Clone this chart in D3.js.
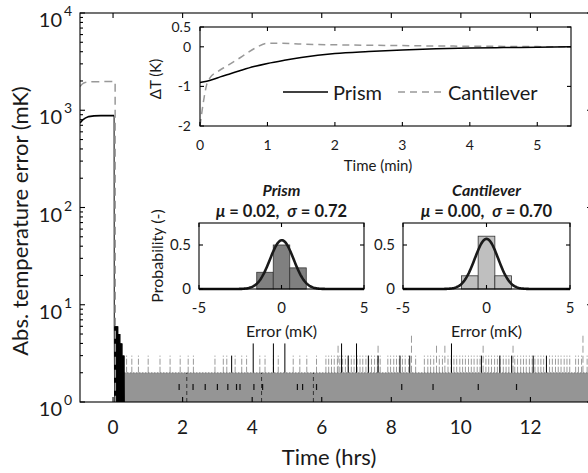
<!DOCTYPE html>
<html>
<head>
<meta charset="utf-8">
<script src="https://cdn.jsdelivr.net/npm/d3@7"></script>
<style>
  body { margin: 0; background: #fff; }
  svg { display: block; font-family: Lato, "Open Sans", sans-serif; }
</style>
</head>
<body>
<div id="chart"></div>
<script>
// ---- main plot: absolute temperature error (mK) vs time (hrs) ----
// before the switch-on: smooth offsets
const prismLeadTime  = [-0.95, -0.88, -0.8, -0.7, -0.55, -0.35, -0.1, 0.03];
const prismLeadError = [740, 790, 830, 860, 875, 880, 880, 880];
const cantLeadTime   = [-0.95, -0.9, -0.84, -0.76, -0.6, -0.3, 0.06];
const cantLeadError  = [1750, 1840, 1910, 1950, 1965, 1970, 1970];

// prism transient right after the drop
const prismDropTime  = [0.03, 0.035, 0.045, 0.055, 0.065, 0.075, 0.085, 0.095, 0.105, 0.115, 0.125,
                        0.135, 0.145, 0.155, 0.165, 0.175, 0.185, 0.195, 0.205, 0.215, 0.225, 0.235,
                        0.245, 0.255, 0.265, 0.275, 0.285, 0.295, 0.305, 0.315, 0.325];
const prismDropError = [880, 6, 1, 6, 1, 6, 1, 6, 1, 6, 1, 6, 1, 5, 1, 5, 1, 5, 1, 4, 1, 4, 1, 4, 1,
                        3, 1, 3, 1, 3, 1];
const cantDropTime   = [0.06, 0.065];
const cantDropError  = [1970, 1];

// steady state: error jumps between 1 and 2 mK (dense band)
const bandTime = [0.065, 13.8];
const bandLow = 1, bandHigh = 2;

// occasional spikes above the band
const cantSpike3 = [0.39, 0.54, 0.73, 1.01, 1.35, 1.64, 1.93, 2.16, 2.31, 2.93, 3.17, 3.27, 3.51, 3.70,
  3.84, 4.22, 4.37, 4.61, 4.75, 5.18, 5.37, 5.57, 5.85,
  6.12, 6.2, 6.28, 6.36, 6.45, 6.52, 6.6, 6.68, 6.77, 6.85, 6.93, 7.02, 7.1, 7.18, 7.27, 7.35, 7.43,
  7.52, 7.6, 7.68, 7.9, 7.98, 8.07, 8.15, 8.23, 8.32, 8.4, 8.5, 8.7, 8.95, 9.05, 9.13, 9.22, 9.38,
  9.47, 9.63, 9.72, 9.8, 9.88, 9.97, 10.05, 10.13, 10.22, 10.3, 10.38, 10.47, 10.55, 10.72, 10.8,
  10.88, 10.97, 11.05, 11.13, 11.22, 11.3, 11.38, 11.55, 11.63, 11.72, 11.8, 11.88, 11.97, 12.05,
  12.13, 12.22, 12.3, 12.38, 12.55, 12.63, 12.72, 12.8, 12.88, 12.97, 13.05, 13.13, 13.3, 13.38,
  13.47, 13.63, 13.72];
const cantSpike4 = [6.47, 7.62, 9.30, 9.54, 10.64, 11.5];
const cantSpike5 = [8.58, 13.51];
const prismSpike3 = [3.41, 6.76, 7.34, 7.62, 8.25, 8.53, 10.59, 11.12, 11.46, 12.08, 12.46];
const prismSpike4 = [4.03, 4.61, 4.94, 6.57, 7.0, 9.73];
const prismBandMarks = [1.9, 2.3, 2.65, 3.0, 3.3, 3.55, 3.65, 4.05, 4.3, 5.3, 5.45, 5.85, 8.3, 9.2, 10.5, 11.6];
const prismBandLines = [2.12, 4.27, 5.76];

const xTicks = [0, 2, 4, 6, 8, 10, 12, 14];
const yExponents = [0, 1, 2, 3, 4];

// ---- inset: temperature difference (K) vs time (min) ----
const insetTime  = [0, 0.1, 0.2, 0.3, 0.45, 0.6, 0.8, 1.0, 1.25, 1.5, 2.0, 2.5, 3.0, 3.5, 4.0, 4.5, 5.0, 5.5];
const insetPrism = [-0.9, -0.87, -0.82, -0.76, -0.68, -0.6, -0.5, -0.42, -0.34, -0.27, -0.17, -0.12,
                    -0.08, -0.05, -0.03, -0.02, -0.01, 0];
const insetCantTime = [0, 0.05, 0.1, 0.15, 0.25, 0.4, 0.6, 0.8, 1.0, 1.2, 1.5, 2.0, 2.5, 3.0, 3.5, 4.0, 4.5, 5.0, 5.5];
const insetCant     = [-2.0, -1.4, -0.95, -0.78, -0.64, -0.48, -0.27, -0.05, 0.09, 0.09, 0.07, 0.05,
                       0.04, 0.03, 0.02, 0.015, 0.01, 0.005, 0];
const insetXTicks = [0, 1, 2, 3, 4, 5];
const insetYTicks = [-2, -1, 0, 0.5];

// ---- histogram insets: error distribution ----
const binCenters = [-1, 0, 1];
const prismProb = [0.19, 0.50, 0.24];
const cantProb  = [0.15, 0.60, 0.15];
const prismFit = { mu: 0.02, sigma: 0.72 };
const cantFit  = { mu: 0.00, sigma: 0.70 };
const histXTicks = [-5, 0, 5];
const histYTicks = [0, 0.5];

const W = 588, H = 473;
const svg = d3.select("#chart").append("svg")
  .attr("width", W).attr("height", H)
  .attr("viewBox", `0 0 ${W} ${H}`);
svg.append("rect").attr("width", W).attr("height", H).attr("fill", "#fff");

const m = { left: 80, right: 592, top: 13, bottom: 402 };
const x = d3.scaleLinear().domain([-0.95, 13.77]).range([m.left, m.right]);
const y = d3.scaleLog().domain([1, 10000]).range([m.bottom, m.top]);

svg.append("defs").append("clipPath").attr("id", "mainClip")
  .append("rect").attr("x", m.left).attr("y", m.top)
  .attr("width", m.right - m.left).attr("height", m.bottom - m.top);

const plot = svg.append("g").attr("clip-path", "url(#mainClip)");
const GRAY = "#959595";

// band of dense 1-2 mK jumps
plot.append("path").datum(bandTime)
  .attr("d", d3.area().x(d => x(d)).y0(y(bandLow)).y1(y(bandHigh)))
  .attr("fill", GRAY);

// black traces inside band
plot.selectAll(".bmark").data(prismBandMarks).enter().append("line")
  .attr("x1", d => x(d)).attr("x2", d => x(d))
  .attr("y1", y(bandLow)).attr("y2", y(bandHigh))
  .attr("stroke", "#111").attr("stroke-width", 1.2)
  .attr("stroke-dasharray", "0,12,6,40");
plot.selectAll(".bline").data(prismBandLines).enter().append("line")
  .attr("x1", d => x(d)).attr("x2", d => x(d))
  .attr("y1", y(bandLow)).attr("y2", y(bandHigh))
  .attr("stroke", "#333").attr("stroke-width", 1)
  .attr("stroke-dasharray", "4,3");

// spikes
function spikes(times, level, color, dash) {
  plot.append("g").selectAll("line").data(times).enter().append("line")
    .attr("x1", d => x(d)).attr("x2", d => x(d))
    .attr("y1", y(bandHigh)).attr("y2", y(level))
    .attr("stroke", color).attr("stroke-width", 1)
    .attr("stroke-dasharray", dash);
}
spikes(cantSpike3, 3, "#9a9a9a", "6,2");
spikes(cantSpike4, 4, "#9a9a9a", "7,3");
spikes(cantSpike5, 5, "#9a9a9a", "7,3");
spikes(prismSpike3, 3, "#000", null);
spikes(prismSpike4, 4, "#000", null);

// dotted upper edge of the band
plot.append("line")
  .attr("x1", x(bandTime[0])).attr("x2", x(bandTime[1]))
  .attr("y1", y(bandHigh)).attr("y2", y(bandHigh))
  .attr("stroke", "#222").attr("stroke-width", 0.8)
  .attr("stroke-dasharray", "1,2").attr("opacity", 0.7);

const line = d3.line().x(d => x(d[0])).y(d => y(d[1]));
const zip = (a, b) => a.map((v, i) => [v, b[i]]);

plot.append("path").datum(zip(prismDropTime, prismDropError))
  .attr("d", line).attr("fill", "none").attr("stroke", "#000").attr("stroke-width", 1);
plot.append("path").datum(zip(prismLeadTime, prismLeadError))
  .attr("d", line).attr("fill", "none").attr("stroke", "#000").attr("stroke-width", 1.6);
plot.append("path").datum(zip(cantLeadTime.concat(cantDropTime.slice(1)), cantLeadError.concat(cantDropError.slice(1))))
  .attr("d", line).attr("fill", "none").attr("stroke", "#999").attr("stroke-width", 1.5)
  .attr("stroke-dasharray", "8,5");

// frame and ticks of the main axes
const ax = svg.append("g").attr("stroke", "#000").attr("stroke-width", 1.1);
ax.append("rect").attr("x", m.left).attr("y", m.top)
  .attr("width", m.right - m.left).attr("height", m.bottom - m.top).attr("fill", "none");
xTicks.forEach(t => {
  ax.append("line").attr("x1", x(t)).attr("x2", x(t)).attr("y1", m.bottom).attr("y2", m.bottom - 5);
  ax.append("line").attr("x1", x(t)).attr("x2", x(t)).attr("y1", m.top).attr("y2", m.top + 5);
});
yExponents.forEach(e => {
  const v = Math.pow(10, e);
  [m.left, m.right].forEach((xx, side) => {
    const s = side ? -1 : 1;
    ax.append("line").attr("x1", xx).attr("x2", xx + s * 5).attr("y1", y(v)).attr("y2", y(v));
    if (e < 4) {
      for (let k = 2; k <= 9; k++) {
        ax.append("line").attr("x1", xx).attr("x2", xx + s * 3)
          .attr("y1", y(k * v)).attr("y2", y(k * v));
      }
    }
  });
});

const lab = svg.append("g").attr("fill", "#1a1a1a");
// the last tick label falls outside the cropped figure
xTicks.filter(t => x(t) < W - 10).forEach(t => {
  lab.append("text").attr("x", x(t)).attr("y", 434).attr("text-anchor", "middle")
    .attr("font-size", 19).text(t);
});
yExponents.forEach(e => {
  const yy = y(Math.pow(10, e));
  lab.append("text").attr("x", 62).attr("y", yy + 14).attr("text-anchor", "end")
    .attr("font-size", 20).text("10");
  lab.append("text").attr("x", 64).attr("y", yy + 3).attr("font-size", 14).text(e);
});
lab.append("text").attr("x", 329).attr("y", 465).attr("text-anchor", "middle")
  .attr("font-size", 22).text("Time (hrs)");
lab.append("text").attr("transform", "translate(28,221) rotate(-90)")
  .attr("text-anchor", "middle").attr("font-size", 22).text("Abs. temperature error (mK)");

// ---- inset 1 ----
const ib = { left: 200, right: 571, top: 27, bottom: 126 };
const xi = d3.scaleLinear().domain([0, 5.5]).range([ib.left, ib.right]);
const yi = d3.scaleLinear().domain([-2, 0.5]).range([ib.bottom, ib.top]);
const ins = svg.append("g");
ins.append("rect").attr("x", ib.left).attr("y", ib.top)
  .attr("width", ib.right - ib.left).attr("height", ib.bottom - ib.top).attr("fill", "#fff");
const li = d3.line().x(d => xi(d[0])).y(d => yi(d[1])).curve(d3.curveMonotoneX);
ins.append("path").datum(zip(insetCantTime, insetCant)).attr("d", li)
  .attr("fill", "none").attr("stroke", "#999").attr("stroke-width", 1.5).attr("stroke-dasharray", "7,5");
ins.append("path").datum(zip(insetTime, insetPrism)).attr("d", li)
  .attr("fill", "none").attr("stroke", "#000").attr("stroke-width", 1.5);
const insAx = ins.append("g").attr("stroke", "#000").attr("stroke-width", 1.1);
insAx.append("rect").attr("x", ib.left).attr("y", ib.top)
  .attr("width", ib.right - ib.left).attr("height", ib.bottom - ib.top).attr("fill", "none");
insetXTicks.forEach(t => {
  insAx.append("line").attr("x1", xi(t)).attr("x2", xi(t)).attr("y1", ib.bottom).attr("y2", ib.bottom - 4);
  insAx.append("line").attr("x1", xi(t)).attr("x2", xi(t)).attr("y1", ib.top).attr("y2", ib.top + 4);
  ins.append("text").attr("x", xi(t)).attr("y", 150).attr("text-anchor", "middle")
    .attr("font-size", 14).attr("fill", "#1a1a1a").text(t);
});
insetYTicks.forEach(v => {
  insAx.append("line").attr("x1", ib.left).attr("x2", ib.left + 4).attr("y1", yi(v)).attr("y2", yi(v));
  insAx.append("line").attr("x1", ib.right).attr("x2", ib.right - 4).attr("y1", yi(v)).attr("y2", yi(v));
  ins.append("text").attr("x", 191).attr("y", yi(v) + 5).attr("text-anchor", "end")
    .attr("font-size", 14).attr("fill", "#1a1a1a").text(v);
});
ins.append("text").attr("x", 378).attr("y", 171).attr("text-anchor", "middle")
  .attr("font-size", 15).attr("fill", "#1a1a1a").text("Time (min)");
ins.append("text").attr("transform", "translate(161,79) rotate(-90)").attr("text-anchor", "middle")
  .attr("font-size", 15).attr("fill", "#1a1a1a").text("\u0394T (K)");
// legend
ins.append("line").attr("x1", 283).attr("x2", 328).attr("y1", 92).attr("y2", 92)
  .attr("stroke", "#000").attr("stroke-width", 1.5);
ins.append("text").attr("x", 333).attr("y", 100).attr("font-size", 20).attr("fill", "#1a1a1a").text("Prism");
ins.append("line").attr("x1", 398).attr("x2", 443).attr("y1", 92).attr("y2", 92)
  .attr("stroke", "#999").attr("stroke-width", 1.5).attr("stroke-dasharray", "7,5");
ins.append("text").attr("x", 448).attr("y", 100).attr("font-size", 20).attr("fill", "#1a1a1a").text("Cantilever");

// ---- histogram insets ----
function histogram(left, right, probs, fit, fill, name, showYLabel) {
  const top = 223, bottom = 289;
  const xh = d3.scaleLinear().domain([-5, 5]).range([left, right]);
  const yh = d3.scaleLinear().domain([0, 0.75]).range([bottom, top]);
  const g = svg.append("g");
  g.append("rect").attr("x", left).attr("y", top).attr("width", right - left)
    .attr("height", bottom - top).attr("fill", "#fff");
  g.selectAll(".bar").data(binCenters).enter().append("rect")
    .attr("x", d => xh(d - 0.5)).attr("width", xh(0.5) - xh(-0.5))
    .attr("y", (d, i) => yh(probs[i])).attr("height", (d, i) => bottom - yh(probs[i]))
    .attr("fill", fill).attr("stroke", "#333").attr("stroke-width", 0.8);
  const pts = d3.range(-5, 5.001, 0.05).map(v =>
    [v, Math.exp(-0.5 * Math.pow((v - fit.mu) / fit.sigma, 2)) / (fit.sigma * Math.sqrt(2 * Math.PI))]);
  g.append("path").datum(pts)
    .attr("d", d3.line().x(d => xh(d[0])).y(d => yh(d[1])))
    .attr("fill", "none").attr("stroke", "#1a1a1a").attr("stroke-width", 2.6);
  const a = g.append("g").attr("stroke", "#000").attr("stroke-width", 1.1);
  a.append("rect").attr("x", left).attr("y", top).attr("width", right - left)
    .attr("height", bottom - top).attr("fill", "none");
  histXTicks.forEach(t => {
    a.append("line").attr("x1", xh(t)).attr("x2", xh(t)).attr("y1", bottom).attr("y2", bottom - 4);
    a.append("line").attr("x1", xh(t)).attr("x2", xh(t)).attr("y1", top).attr("y2", top + 4);
    g.append("text").attr("x", xh(t)).attr("y", 313).attr("text-anchor", "middle")
      .attr("font-size", 15).attr("fill", "#1a1a1a").text(t);
  });
  histYTicks.forEach(v => {
    a.append("line").attr("x1", left).attr("x2", left + 4).attr("y1", yh(v)).attr("y2", yh(v));
    a.append("line").attr("x1", right).attr("x2", right - 4).attr("y1", yh(v)).attr("y2", yh(v));
    g.append("text").attr("x", left - 8).attr("y", yh(v) + 5).attr("text-anchor", "end")
      .attr("font-size", 15).attr("fill", "#1a1a1a").text(v);
  });
  const cx = (left + right) / 2;
  g.append("text").attr("x", cx).attr("y", 337).attr("text-anchor", "middle")
    .attr("font-size", 16).attr("fill", "#1a1a1a").text("Error (mK)");
  g.append("text").attr("x", cx).attr("y", 196).attr("text-anchor", "middle")
    .attr("font-size", 16).attr("font-weight", "bold").attr("font-style", "italic")
    .attr("fill", "#1a1a1a").text(name);
  const t2 = g.append("text").attr("x", cx).attr("y", 217).attr("text-anchor", "middle")
    .attr("font-size", 16.5).attr("font-weight", "bold").attr("fill", "#1a1a1a")
    .style("white-space", "pre");
  t2.append("tspan").attr("font-style", "italic").text("\u03bc");
  t2.append("tspan").text(" = " + fit.mu.toFixed(2) + ",  ");
  t2.append("tspan").attr("font-style", "italic").text("\u03c3");
  t2.append("tspan").text(" = " + fit.sigma.toFixed(2));
  if (showYLabel) {
    g.append("text").attr("transform", `translate(163,${(top + bottom) / 2}) rotate(-90)`)
      .attr("text-anchor", "middle").attr("font-size", 16).attr("fill", "#1a1a1a")
      .text("Probability (-)");
  }
}
histogram(199, 364, prismProb, prismFit, "#808080", "Prism", true);
histogram(403, 570, cantProb, cantFit, "#bfbfbf", "Cantilever", false);
</script>
</body>
</html>
